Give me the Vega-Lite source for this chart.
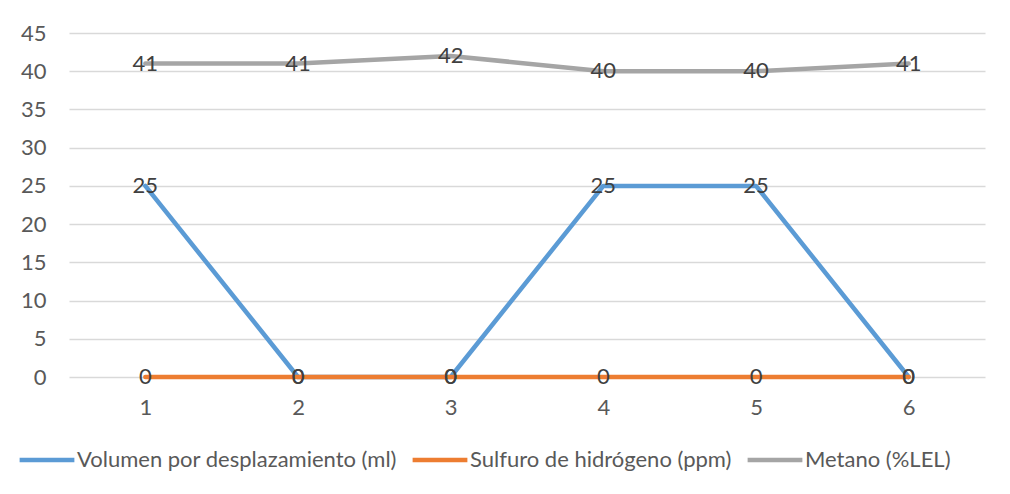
{
  "$schema": "https://vega.github.io/schema/vega-lite/v6.json",
  "width": 916,
  "height": 344,
  "autosize": {"type": "none"},
  "padding": {"left": 69, "top": 33, "right": 25, "bottom": 117},
  "background": "white",
  "config": {
    "view": {"stroke": null},
    "font": "Lato",
    "axis": {"labelFont": "Lato", "labelFontSize": 22, "labelColor": "#595959"},
    "legend": {"labelFont": "Lato", "labelFontSize": 22, "labelColor": "#595959", "labelLimit": 600}
  },
  "data": {
    "values": [
      {"x": "1", "serie": "Volumen por desplazamiento (ml)", "valor": 25},
      {"x": "2", "serie": "Volumen por desplazamiento (ml)", "valor": 0},
      {"x": "3", "serie": "Volumen por desplazamiento (ml)", "valor": 0},
      {"x": "4", "serie": "Volumen por desplazamiento (ml)", "valor": 25},
      {"x": "5", "serie": "Volumen por desplazamiento (ml)", "valor": 25},
      {"x": "6", "serie": "Volumen por desplazamiento (ml)", "valor": 0},
      {"x": "1", "serie": "Sulfuro de hidrógeno (ppm)", "valor": 0},
      {"x": "2", "serie": "Sulfuro de hidrógeno (ppm)", "valor": 0},
      {"x": "3", "serie": "Sulfuro de hidrógeno (ppm)", "valor": 0},
      {"x": "4", "serie": "Sulfuro de hidrógeno (ppm)", "valor": 0},
      {"x": "5", "serie": "Sulfuro de hidrógeno (ppm)", "valor": 0},
      {"x": "6", "serie": "Sulfuro de hidrógeno (ppm)", "valor": 0},
      {"x": "1", "serie": "Metano (%LEL)", "valor": 41},
      {"x": "2", "serie": "Metano (%LEL)", "valor": 41},
      {"x": "3", "serie": "Metano (%LEL)", "valor": 42},
      {"x": "4", "serie": "Metano (%LEL)", "valor": 40},
      {"x": "5", "serie": "Metano (%LEL)", "valor": 40},
      {"x": "6", "serie": "Metano (%LEL)", "valor": 41}
    ]
  },
  "encoding": {
    "x": {
      "field": "x", "type": "ordinal",
      "scale": {"type": "point", "padding": 0.5},
      "axis": {"title": null, "labelAngle": 0, "ticks": false, "domain": false, "grid": false, "labelPadding": 20}
    },
    "y": {
      "field": "valor", "type": "quantitative",
      "scale": {"domain": [0, 45], "nice": false},
      "axis": {"title": null, "values": [0,5,10,15,20,25,30,35,40,45], "ticks": false, "domain": false, "gridColor": "#D9D9D9", "gridWidth": 1.3, "labelPadding": 23}
    }
  },
  "layer": [
    {
      "mark": {"type": "line", "strokeWidth": 4.5, "strokeCap": "round", "strokeJoin": "round"},
      "encoding": {
        "color": {
          "field": "serie", "type": "nominal",
          "scale": {
            "domain": ["Volumen por desplazamiento (ml)", "Sulfuro de hidrógeno (ppm)", "Metano (%LEL)"],
            "range": ["#5B9BD5", "#ED7D31", "#A5A5A5"]
          },
          "legend": {
            "title": null, "orient": "none", "direction": "horizontal",
            "legendX": -52, "legendY": 397,
            "symbolType": "stroke", "symbolSize": 3000, "symbolStrokeWidth": 4.5,
            "columnPadding": 6, "labelOffset": 0
          }
        },
        "order": {"field": "serie", "sort": "descending"}
      }
    },
    {
      "mark": {"type": "text", "fontSize": 22, "color": "#404040", "font": "Lato", "baseline": "middle"},
      "encoding": {"text": {"field": "valor", "type": "quantitative"}}
    }
  ]
}
